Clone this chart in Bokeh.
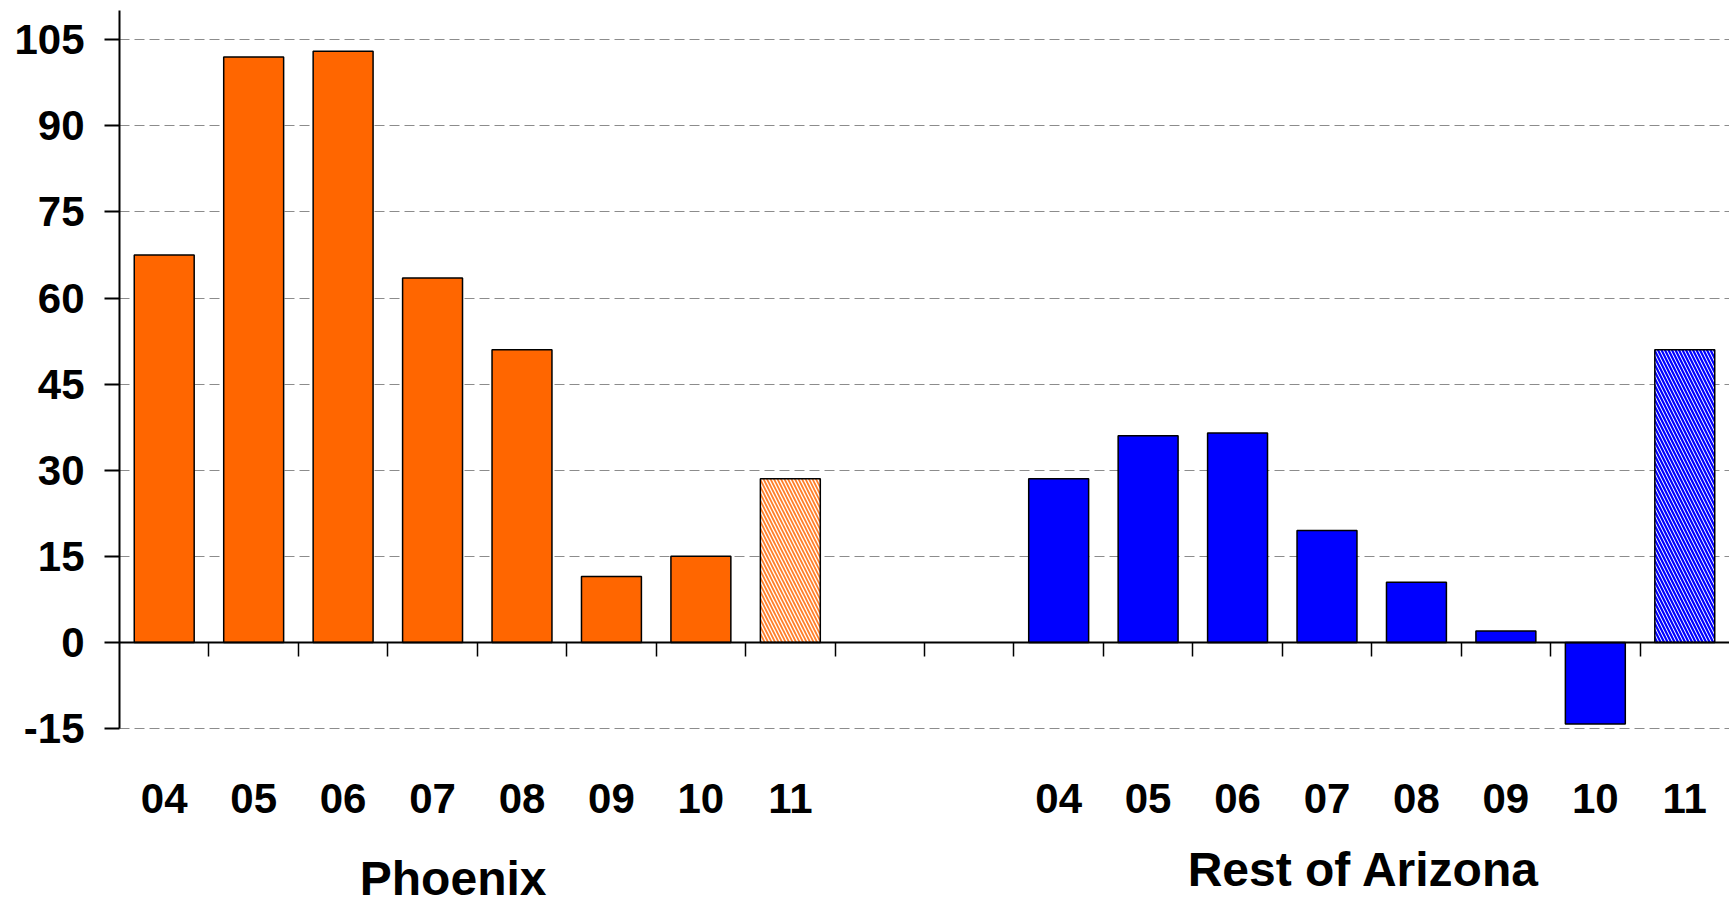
from bokeh.plotting import figure
from bokeh.models import (FixedTicker, LinearAxis, ColumnDataSource, Label,
                          CustomJSTickFormatter)
from bokeh.embed import file_html
from bokeh.resources import INLINE

years = ["04", "05", "06", "07", "08", "09", "10", "11"]
phoenix = [67.5, 102.0, 103.0, 63.5, 51.0, 11.5, 15.0, 28.5]
rest_of_az = [28.5, 36.0, 36.5, 19.5, 10.5, 2.0, -14.2, 51.0]
forecast_year = "11"
groups = ["Phoenix", "Rest of Arizona"]
y_ticks = [-15, 0, 15, 30, 45, 60, 75, 90, 105]

ORANGE = "#FF6600"
BLUE = "#0000FF"
FONT = "Liberation Sans"

n = len(years)
gap = 2
total = 2 * n + gap

def centers(offset):
    return [offset + i + 0.5 for i in range(n)]

ph_x = centers(0)
ra_x = centers(n + gap)

def split(xs, vals):
    solid = {"x": [], "top": []}
    hatch = {"x": [], "top": []}
    for x, v, yr in zip(xs, vals, years):
        d = hatch if yr == forecast_year else solid
        d["x"].append(x)
        d["top"].append(v)
    return ColumnDataSource(solid), ColumnDataSource(hatch)

Y_TOP = 110.1
Y_BOTTOM = -44.97   # extra room under the axis for the category labels

p = figure(width=1729, height=900, x_range=(0, total), y_range=(Y_BOTTOM, Y_TOP),
           output_backend="svg", toolbar_location=None,
           min_border_left=119, min_border_right=0, min_border_top=10,
           min_border_bottom=0)
p.outline_line_color = None
p.background_fill_color = "white"
p.border_fill_color = "white"

# grid
p.xgrid.visible = False
p.ygrid.ticker = FixedTicker(ticks=y_ticks)
p.ygrid.grid_line_color = "#8c8c8c"
p.ygrid.grid_line_dash = "10 5"
p.ygrid.grid_line_width = 1

BW = 0.67
for xs, vals, col, hcol, hw in [(ph_x, phoenix, ORANGE, "#FF7F2A", 1.8),
                                (ra_x, rest_of_az, BLUE, BLUE, 2.2)]:
    s_src, h_src = split(xs, vals)
    p.vbar(x="x", top="top", bottom=0, width=BW, source=s_src,
           fill_color=col, line_color="black", line_width=1.5)
    p.vbar(x="x", top="top", bottom=0, width=BW, source=h_src,
           fill_color="white", hatch_pattern="\\", hatch_color=hcol,
           hatch_scale=7, hatch_weight=hw,
           line_color="black", line_width=1.5)

# y axis
ya = p.yaxis[0]
ya.ticker = FixedTicker(ticks=y_ticks)
ya.bounds = (y_ticks[0], Y_TOP)
ya.major_label_overrides = {t: str(t) for t in y_ticks}
ya.axis_line_width = 2
ya.major_tick_line_width = 2
ya.major_tick_out = 15
ya.major_tick_in = 0
ya.minor_tick_line_color = None
ya.major_label_standoff = 20
ya.major_label_text_font = FONT
ya.major_label_text_font_style = "bold"
ya.major_label_text_font_size = "42px"
ya.major_label_text_color = "black"

# x axis at zero with boundary ticks
xa = p.xaxis[0]
xa.fixed_location = 0
xa.ticker = FixedTicker(ticks=list(range(1, total)))
xa.formatter = CustomJSTickFormatter(code="return ''")
xa.axis_line_width = 2
xa.major_tick_line_width = 1.5
xa.major_tick_out = 14
xa.major_tick_in = 0
xa.minor_tick_line_color = None
xa.major_label_text_font_size = "1px"
xa.major_label_standoff = 0

# year labels axis (also anchored at zero, labels pushed down by standoff)
label_pos = ph_x + ra_x
overrides = {x: yr for x, yr in zip(label_pos, years + years)}
la = LinearAxis(ticker=FixedTicker(ticks=label_pos),
                major_label_overrides=overrides)
la.fixed_location = 0
la.axis_line_color = None
la.major_tick_line_color = None
la.minor_tick_line_color = None
la.major_tick_out = 0
la.major_tick_in = 0
la.major_label_standoff = 142
la.major_label_text_font = FONT
la.major_label_text_font_style = "bold"
la.major_label_text_font_size = "42px"
la.major_label_text_color = "black"
p.add_layout(la, "below")

# group labels
for gx, gy, txt in [(3.73, -41.2, groups[0]), (13.91, -39.5, groups[1])]:
    p.add_layout(Label(x=gx, y=gy, text=txt, text_align="center",
                       text_baseline="alphabetic", text_font=FONT,
                       text_font_style="bold", text_font_size="48px",
                       text_color="black"))

open("out.html", "w").write(file_html(p, INLINE))
